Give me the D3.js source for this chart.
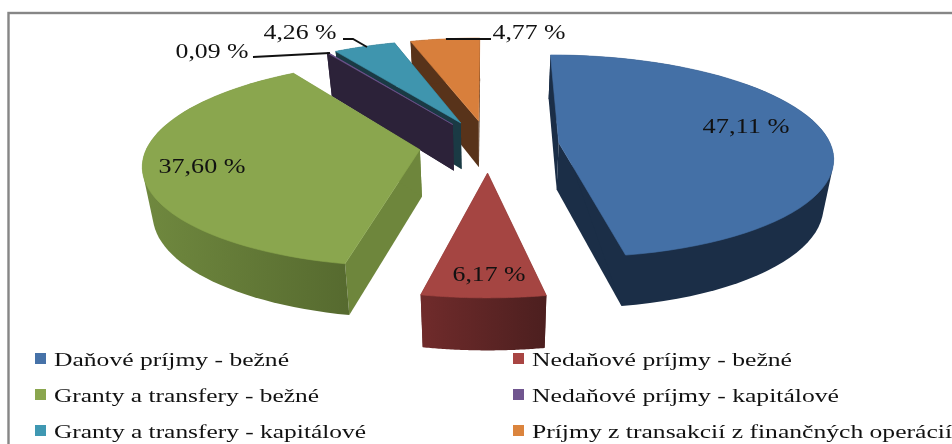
<!DOCTYPE html>
<html lang="en">
<head>
<meta charset="UTF-8">
<title>Pie</title>
<script src="https://d3js.org/d3.v7.min.js"></script>
<style>
    html, body { margin: 0; padding: 0; background: #fff; overflow: hidden; }
    svg { display: block; filter: blur(0.4px); }
    text { font-family: "Liberation Serif", serif; fill: #111; }
</style>
</head>
<body>
<div id="chart"></div>
<script>
const categories = ["Daňové príjmy - bežné", "Nedaňové príjmy - bežné", "Granty a transfery - bežné",
    "Nedaňové príjmy - kapitálové", "Granty a transfery - kapitálové", "Príjmy z transakcií z finančných operácií"];
const shares = [47.11, 6.17, 37.60, 0.09, 4.26, 4.77];
const shareLabels = ["47,11 %", "6,17 %", "37,60 %", "0,09 %", "4,26 %", "4,77 %"];
const topColors = ["#4470a6", "#a54542", "#8aa64e", "#6f5590", "#3f95ae", "#d87f3c"];
const sideColors = ["#1b2e47", "#5e2525", "#6e863c", "#2c2239", "#1a3a44", "#58331a"];
const legendColors = ["#4672a8", "#a84543", "#8aa64e", "#70558f", "#3f98b2", "#db843d"];

const width = 952, height = 444;
const cx = 488.5, cy = 145;    // pie centre on screen
const R = 272, tilt = 100;     // horizontal / vertical radius
const D = 7.5;                 // perspective distance
const wall = 47;
const explode = [0.26, 0.27, 0.255, 0.25, 0.25, 0.25];

const svg = d3.select("#chart").append("svg").attr("width", width).attr("height", height);
const defs = svg.append("defs");

function grad(id, a, b) {
    const g = defs.append("linearGradient").attr("id", id);
    g.append("stop").attr("offset", "0%").attr("stop-color", a);
    g.append("stop").attr("offset", "100%").attr("stop-color", b);
}
grad("wall1", "#702b2b", "#4c1f1f");
grad("wall2", "#70893f", "#566a2f");

svg.append("rect").attr("x", 8.5).attr("y", 13).attr("width", 960).attr("height", 460)
    .attr("fill", "#fff").attr("stroke", "#868686").attr("stroke-width", 2.4);

// fake 3d: flat pie coords -> screen, things further back get smaller
function project(X, Y, z) {
    const s = D / (D + Y);
    return [cx + X * R * s * (1 - 0.03 * z), cy - Y * tilt * s + z * wall * Math.pow(s, 0.6)];
}

const pie = d3.pie().sort(null).value(d => d);
const slices = pie(shares);
const line = d3.line();

function point(d, a, r, z) {
    const mid = (d.startAngle + d.endAngle) / 2;
    const X = explode[d.index] * Math.sin(mid) + r * Math.sin(a);
    const Y = explode[d.index] * Math.cos(mid) + r * Math.cos(a);
    return project(X, Y, z);
}

// back slices first, the ones in front paint over them
const order = [5, 4, 3, 2, 0, 1];
order.forEach(i => {
    const d = slices[i];
    const g = svg.append("g");
    const angles = d3.range(0, 61).map(k => d.startAngle + (d.endAngle - d.startAngle) * k / 60);
    const arcTop = angles.map(a => point(d, a, 1, 0));
    const arcBottom = angles.map(a => point(d, a, 1, 1));
    const apex = point(d, 0, 0, 0), apexLow = point(d, 0, 0, 1);

    [d.startAngle, d.endAngle].forEach(a => {
        g.append("path")
            .attr("d", line([apex, point(d, a, 1, 0), point(d, a, 1, 1), apexLow]) + "Z")
            .attr("fill", sideColors[i]);
    });
    // hull so the wall meets the top at the left/right extremes
    const side = i === 1 ? "url(#wall1)" : i === 2 ? "url(#wall2)" : sideColors[i];
    g.append("path").attr("d", line(d3.polygonHull(arcTop.concat(arcBottom))) + "Z").attr("fill", side);
    g.append("path").attr("d", line([apex].concat(arcTop)) + "Z")
        .attr("fill", topColors[i]).attr("stroke", topColors[i]).attr("stroke-width", 0.6);
});

// leader lines
const leaders = [
    [[253, 57], [330, 53]],
    [[343, 39], [353, 39], [367, 47]],
    [[446, 39], [491, 39]]
];
leaders.forEach(l => {
    svg.append("path").attr("d", line(l)).attr("fill", "none").attr("stroke", "#111").attr("stroke-width", 1.8);
});

const labelPos = [[746, 133], [489, 281], [202, 173], [212, 58], [300, 39], [529, 39]];
const labelWidths = [87, 73, 87, 73, 73, 73];
shareLabels.forEach((t, i) => {
    svg.append("text").attr("x", labelPos[i][0]).attr("y", labelPos[i][1])
        .attr("text-anchor", "middle").attr("font-size", 20)
        .attr("textLength", labelWidths[i]).attr("lengthAdjust", "spacingAndGlyphs").text(t);
});

// legend, two columns
const legendX = [35, 513], legendY = [358, 394, 430];
const legendWidths = [235, 260, 265, 307, 312, 420];
categories.forEach((c, i) => {
    const x = legendX[i % 2], y = legendY[Math.floor(i / 2)];
    svg.append("rect").attr("x", x).attr("y", y - 5).attr("width", 11).attr("height", 11).attr("fill", legendColors[i]);
    svg.append("text").attr("x", x + 19).attr("y", y + 8).attr("font-size", 18)
        .attr("textLength", legendWidths[i]).attr("lengthAdjust", "spacingAndGlyphs")
        .text(c);
});
</script>
</body>
</html>
